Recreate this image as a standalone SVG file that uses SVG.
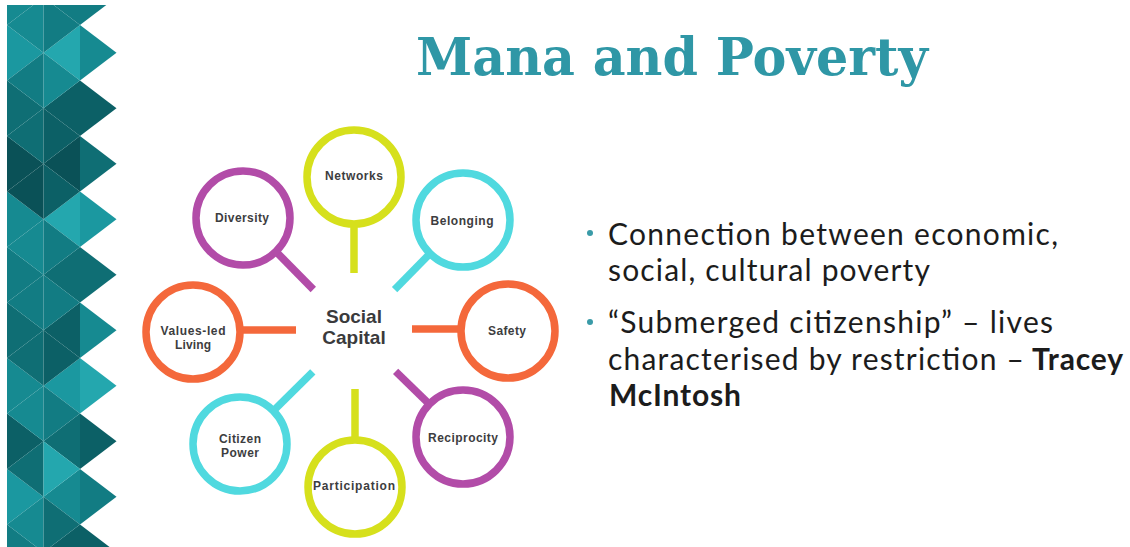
<svg xmlns="http://www.w3.org/2000/svg" width="1130" height="547" viewBox="0 0 1130 547">
  <style>
    .a{fill:#24a7ae}.b{fill:#1b98a0}.c{fill:#168a91}.d{fill:#127c83}.e{fill:#0f6e74}.f{fill:#0c6066}.g{fill:#0a5157}
    .ring{fill:#ffffff;stroke-width:7.5}
    .stem{stroke-width:7.5;stroke-linecap:butt}
    .yel{stroke:#d6e01c}.cya{stroke:#50d9df}.pur{stroke:#b24ca8}.ora{stroke:#f4683b}
    .lbl{font-family:"Liberation Sans",Arial,sans-serif;font-weight:bold;font-size:12px;fill:#3d3d40;text-anchor:middle}
    .hub{font-family:"Liberation Sans",Arial,sans-serif;font-weight:bold;font-size:19px;fill:#3a3a3c;text-anchor:middle}
    .title{font-family:"DejaVu Serif","Liberation Serif",serif;font-weight:bold;font-size:53px;fill:#2f97a6}
    .body{font-family:Lato,"Open Sans",sans-serif;font-size:30px;fill:#1c1c1c}
    .bold{font-weight:bold}
    .dot{fill:#3a9ba8}
  </style>
  <defs>
    <clipPath id="stripClip">
      <rect x="7" y="5" width="115" height="542"/>
    </clipPath>
  </defs>
  <rect width="1130" height="547" fill="#ffffff"/>

  <!-- faceted teal border strip, one row of triangles per 55.5px band -->
  <g id="border-strip" clip-path="url(#stripClip)">
    <g transform="translate(0,-30.5)"><polygon class="c" points="7,0 43.5,27.75 7,55.5"/><polygon class="b" points="43.5,-27.75 7,0 43.5,27.75"/><polygon class="d" points="80,0 43.5,27.75 80,55.5"/><polygon class="c" points="43.5,-27.75 80,0 43.5,27.75"/><polygon class="d" points="80,0 116.5,27.75 80,55.5"/></g>
    <g transform="translate(0,25)"><polygon class="b" points="7,0 43.5,27.75 7,55.5"/><polygon class="c" points="43.5,-27.75 7,0 43.5,27.75"/><polygon class="a" points="80,0 43.5,27.75 80,55.5"/><polygon class="d" points="43.5,-27.75 80,0 43.5,27.75"/><polygon class="c" points="80,0 116.5,27.75 80,55.5"/></g>
    <g transform="translate(0,80.5)"><polygon class="e" points="7,0 43.5,27.75 7,55.5"/><polygon class="d" points="43.5,-27.75 7,0 43.5,27.75"/><polygon class="f" points="80,0 43.5,27.75 80,55.5"/><polygon class="c" points="43.5,-27.75 80,0 43.5,27.75"/><polygon class="f" points="80,0 116.5,27.75 80,55.5"/></g>
    <g transform="translate(0,136)"><polygon class="g" points="7,0 43.5,27.75 7,55.5"/><polygon class="e" points="43.5,-27.75 7,0 43.5,27.75"/><polygon class="g" points="80,0 43.5,27.75 80,55.5"/><polygon class="f" points="43.5,-27.75 80,0 43.5,27.75"/><polygon class="e" points="80,0 116.5,27.75 80,55.5"/></g>
    <g transform="translate(0,191.5)"><polygon class="c" points="7,0 43.5,27.75 7,55.5"/><polygon class="g" points="43.5,-27.75 7,0 43.5,27.75"/><polygon class="a" points="80,0 43.5,27.75 80,55.5"/><polygon class="f" points="43.5,-27.75 80,0 43.5,27.75"/><polygon class="b" points="80,0 116.5,27.75 80,55.5"/></g>
    <g transform="translate(0,247)"><polygon class="d" points="7,0 43.5,27.75 7,55.5"/><polygon class="c" points="43.5,-27.75 7,0 43.5,27.75"/><polygon class="e" points="80,0 43.5,27.75 80,55.5"/><polygon class="d" points="43.5,-27.75 80,0 43.5,27.75"/><polygon class="e" points="80,0 116.5,27.75 80,55.5"/></g>
    <g transform="translate(0,302.5)"><polygon class="e" points="7,0 43.5,27.75 7,55.5"/><polygon class="d" points="43.5,-27.75 7,0 43.5,27.75"/><polygon class="f" points="80,0 43.5,27.75 80,55.5"/><polygon class="d" points="43.5,-27.75 80,0 43.5,27.75"/><polygon class="c" points="80,0 116.5,27.75 80,55.5"/></g>
    <g transform="translate(0,358)"><polygon class="c" points="7,0 43.5,27.75 7,55.5"/><polygon class="e" points="43.5,-27.75 7,0 43.5,27.75"/><polygon class="b" points="80,0 43.5,27.75 80,55.5"/><polygon class="f" points="43.5,-27.75 80,0 43.5,27.75"/><polygon class="a" points="80,0 116.5,27.75 80,55.5"/></g>
    <g transform="translate(0,413.5)"><polygon class="f" points="7,0 43.5,27.75 7,55.5"/><polygon class="c" points="43.5,-27.75 7,0 43.5,27.75"/><polygon class="e" points="80,0 43.5,27.75 80,55.5"/><polygon class="d" points="43.5,-27.75 80,0 43.5,27.75"/><polygon class="f" points="80,0 116.5,27.75 80,55.5"/></g>
    <g transform="translate(0,469)"><polygon class="b" points="7,0 43.5,27.75 7,55.5"/><polygon class="e" points="43.5,-27.75 7,0 43.5,27.75"/><polygon class="c" points="80,0 43.5,27.75 80,55.5"/><polygon class="a" points="43.5,-27.75 80,0 43.5,27.75"/><polygon class="d" points="80,0 116.5,27.75 80,55.5"/></g>
    <g transform="translate(0,524.5)"><polygon class="d" points="7,0 43.5,27.75 7,55.5"/><polygon class="c" points="43.5,-27.75 7,0 43.5,27.75"/><polygon class="f" points="80,0 43.5,27.75 80,55.5"/><polygon class="e" points="43.5,-27.75 80,0 43.5,27.75"/><polygon class="f" points="80,0 116.5,27.75 80,55.5"/></g>
  </g>

  <text class="title" x="416" y="75" textLength="512" lengthAdjust="spacingAndGlyphs">Mana and Poverty</text>

  <!-- spokes from the hub out to each ring -->
  <g id="connectors">
    <line class="stem yel" x1="354" y1="273" x2="354" y2="225"/>
    <line class="stem yel" x1="355" y1="389" x2="355" y2="439"/>
    <line class="stem ora" x1="296" y1="330" x2="241" y2="330"/>
    <line class="stem ora" x1="412" y1="329" x2="460" y2="329"/>
    <line class="stem pur" x1="313.3" y1="289.5" x2="276.7" y2="252.3"/>
    <line class="stem cya" x1="394.6" y1="289.6" x2="429.4" y2="254.2"/>
    <line class="stem cya" x1="312.8" y1="371.8" x2="274.1" y2="410.2"/>
    <line class="stem pur" x1="395.6" y1="371.4" x2="428.6" y2="403.5"/>
  </g>

  <g id="hub">
    <text class="hub" x="354" y="323">Social</text>
    <text class="hub" x="354" y="344">Capital</text>
  </g>

  <g id="networks">
    <circle class="ring yel" cx="354" cy="177" r="47"/>
    <text class="lbl" x="354" y="180" textLength="58">Networks</text>
  </g>
  <g id="diversity">
    <circle class="ring pur" cx="243" cy="218" r="47"/>
    <text class="lbl" x="242" y="222" textLength="54">Diversity</text>
  </g>
  <g id="belonging">
    <circle class="ring cya" cx="463" cy="220" r="47"/>
    <text class="lbl" x="462" y="225" textLength="63">Belonging</text>
  </g>
  <g id="values-led-living">
    <circle class="ring ora" cx="193" cy="332" r="47"/>
    <text class="lbl" x="193" y="335" textLength="65">Values-led</text>
    <text class="lbl" x="193" y="349" textLength="36">Living</text>
  </g>
  <g id="safety">
    <circle class="ring ora" cx="508" cy="331" r="47"/>
    <text class="lbl" x="507" y="335" textLength="38">Safety</text>
  </g>
  <g id="citizen-power">
    <circle class="ring cya" cx="240" cy="444" r="47"/>
    <text class="lbl" x="240" y="443" textLength="42">Citizen</text>
    <text class="lbl" x="240" y="457" textLength="38">Power</text>
  </g>
  <g id="participation">
    <circle class="ring yel" cx="355" cy="487" r="47"/>
    <text class="lbl" x="354" y="490" textLength="82">Participation</text>
  </g>
  <g id="reciprocity">
    <circle class="ring pur" cx="463" cy="437" r="47"/>
    <text class="lbl" x="463" y="442" textLength="70">Reciprocity</text>
  </g>

  <!-- bullet list -->
  <g id="bullets">
    <circle class="dot" cx="590" cy="233" r="3"/>
    <text class="body" x="608" y="245" textLength="450">Connection between economic,</text>
    <text class="body" x="608" y="281" textLength="322">social, cultural poverty</text>
    <circle class="dot" cx="590" cy="322" r="3"/>
    <text class="body" x="608" y="333" textLength="445">“Submerged citizenship” – lives</text>
    <text class="body" x="608" y="370" textLength="416">characterised by restriction – </text>
    <text class="body bold" x="1032" y="370" textLength="91">Tracey</text>
    <text class="body bold" x="609" y="406" textLength="132">McIntosh</text>
  </g>
</svg>
